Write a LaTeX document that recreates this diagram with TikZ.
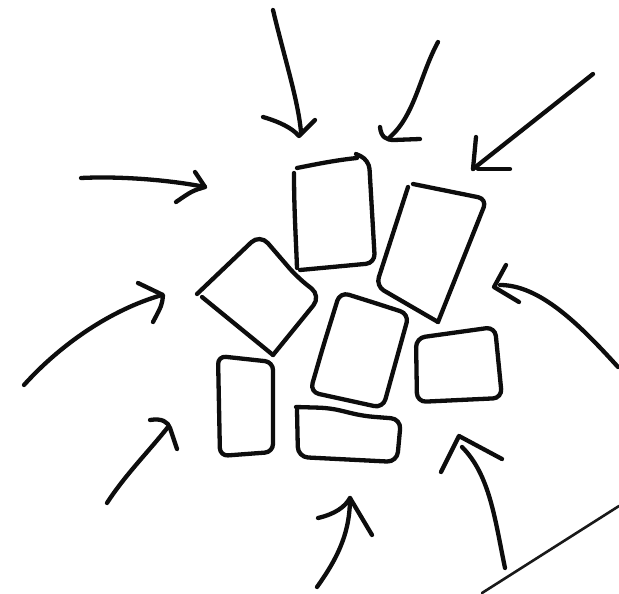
\documentclass[tikz,border=0pt]{standalone}
\begin{document}
\begin{tikzpicture}[x=1pt,y=-1pt,
  ink/.style={line width=4.3pt,line cap=round,line join=round,black!95},
  thinink/.style={line width=2.6pt,line cap=round,black!90},
  roundbox/.style={ink,rounded corners=9pt}]
\useasboundingbox[fill=white] (0,0) rectangle (619,594);

% --- boxes ---
% top centre
\draw[ink] (297,168) .. controls (317,164) and (337,160) .. (357,158);
\draw[roundbox] (356,154) -- (369,160) -- (375,263) -- (300,270);
\draw[ink] (294,173) .. controls (294,210) and (296,240) .. (297,268);
% top right tilted
\draw[roundbox] (408,187) -- (376,286) -- (438,322);
\draw[roundbox] (438,322) -- (487,199) -- (413,184);
% left diamond
\draw[ink,rounded corners=12pt] (197,294) -- (260,234) -- (297,277) -- (321,296) -- (273,355);
\draw[ink] (273,355) -- (202,297);
% centre tilted
\draw[roundbox] (340,292) -- (375,303) -- (409,314) -- (383,408) -- (310,392) -- (323,347) -- cycle;
% right
\draw[roundbox] (416,338) -- (495,327) -- (502,398) -- (417,402) -- cycle;
% left tall
\draw[ink,rounded corners=8pt] (218,356) -- (273,362) -- (273,452) -- (220,456) -- cycle;
% bottom wide
\draw[ink,rounded corners=10pt] (296,407) -- (330,408) -- (363,416) -- (401,419) -- (397,462) -- (298,457) -- (297,410);

% --- arrows ---
% top
\draw[ink] (273,10) .. controls (285,60) and (298,100) .. (301,132);
\draw[ink] (263,117) .. controls (280,122) and (292,128) .. (299,136) -- (315,120);
% top middle
\draw[ink] (438,42) .. controls (420,75) and (415,115) .. (390,137);
\draw[ink] (380,127) .. controls (381,137) and (386,140) .. (394,140) -- (420,139);
% top right
\draw[ink] (593,74) -- (473,169);
\draw[ink] (476,137) -- (473,169);
\draw[ink] (478,169) -- (510,169);
% left top
\draw[ink] (81,178) .. controls (120,176) and (170,180) .. (205,187);
\draw[ink] (195,172) -- (205,187) .. controls (192,191) .. (176,202);
% left middle
\draw[ink] (24,385) .. controls (60,345) and (110,310) .. (162,295);
\draw[ink] (138,283) -- (163,295) .. controls (162,305) .. (153,322);
% left bottom
\draw[ink] (107,503) .. controls (125,475) and (150,450) .. (168,427);
\draw[ink] (150,420) .. controls (162,418) and (168,422) .. (170,428) -- (177,449);
% bottom
\draw[ink] (317,587) .. controls (340,555) and (350,530) .. (350,498);
\draw[ink] (318,518) .. controls (335,514) and (345,507) .. (350,498) -- (372,535);
% bottom right
\draw[ink] (505,568) .. controls (495,520) and (490,475) .. (462,447);
\draw[ink] (441,472) -- (459,436) -- (502,459);
% right
\draw[ink] (618,367) .. controls (580,325) and (540,285) .. (500,285);
\draw[ink] (506,265) -- (494,287) -- (519,302);

% corner line
\draw[thinink] (482,593) -- (619,506);
\end{tikzpicture}
\end{document}
